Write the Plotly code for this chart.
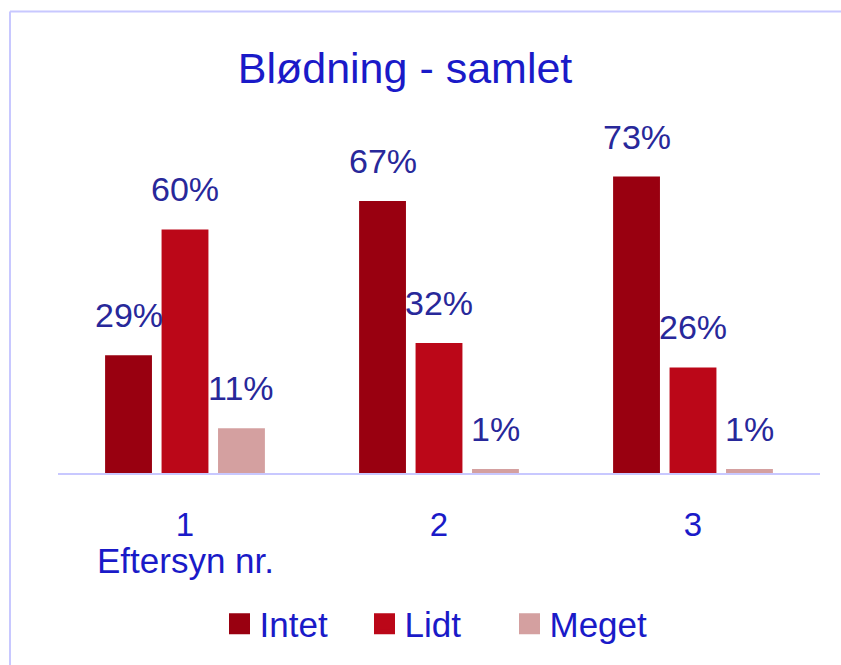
import plotly.graph_objects as go

categories = [1, 2, 3]
tick_labels = ["1", "2", "3"]
series_names = ["Intet", "Lidt", "Meget"]
intet = [29, 67, 73]
lidt = [60, 32, 26]
meget = [11, 1, 1]
values = [intet, lidt, meget]
colors = ["#990010", "#BB0718", "#D4A0A0"]

FONT = "Liberation Sans, Arial, sans-serif"
TEXT_BLUE = "#1a1ac8"
LABEL_BLUE = "#28289a"
BORDER = "#c8c8ff"

W, H = 841, 665
ML, MR, MT, MB = 58, 21, 67, 189
PW, PH = W - ML - MR, H - MT - MB


def px_x(x):
    return (x - ML) / PW


def px_y(y):
    return (H - MB - y) / PH


bargap = 0.333
bargroupgap = 0.17

fig = go.Figure()
for name, vals, col in zip(series_names, values, colors):
    fig.add_trace(go.Bar(x=categories, y=vals, name=name, marker_color=col,
                         marker_line_width=0, showlegend=False))
    # legend proxy
    fig.add_trace(go.Scatter(x=[None], y=[None], mode="markers", name=name,
                             marker=dict(symbol="square", size=24, color=col,
                                         line=dict(color=col, width=5))))

# data labels above bars
n = len(series_names)
slot = (1 - bargap) / n
annotations = []
for k, vals in enumerate(values):
    off = (k - (n - 1) / 2) * slot
    for c, v in zip(categories, vals):
        annotations.append(dict(x=c + off, y=v, xref="x", yref="y",
                                text=f"{v}%", showarrow=False,
                                yanchor="bottom", yshift=19,
                                font=dict(family=FONT, size=34, color=LABEL_BLUE)))

annotations.append(dict(x=px_x(185), y=px_y(564), xref="paper", yref="paper",
                        text="Eftersyn nr.", showarrow=False,
                        xanchor="center", yanchor="middle",
                        font=dict(family=FONT, size=35, color=TEXT_BLUE)))

fig.update_layout(
    width=W, height=H,
    margin=dict(l=ML, r=MR, t=MT, b=MB),
    paper_bgcolor="white", plot_bgcolor="white",
    barmode="group", bargap=bargap, bargroupgap=bargroupgap,
    title=dict(text="Blødning - samlet", x=0.4816, y=0.898, xref="container",
               yref="container", xanchor="center", yanchor="middle",
               font=dict(family=FONT, size=43, color=TEXT_BLUE)),
    xaxis=dict(range=[0.5, 3.5], tickvals=categories, ticktext=tick_labels,
               showline=True, linecolor=BORDER, linewidth=2, showgrid=False,
               zeroline=False, ticks="outside", ticklen=21,
               tickcolor="rgba(0,0,0,0)",
               tickfont=dict(family=FONT, size=33, color=TEXT_BLUE)),
    yaxis=dict(range=[0, 100], visible=False, showgrid=False, zeroline=False),
    legend=dict(orientation="h", x=px_x(437), y=px_y(628), xanchor="center",
                yanchor="middle", font=dict(family=FONT, size=35, color=TEXT_BLUE),
                itemsizing="trace", bgcolor="rgba(0,0,0,0)",
                entrywidth=100, entrywidthmode="pixels"),
    annotations=annotations,
    shapes=[
        dict(type="line", xref="paper", yref="paper", x0=px_x(10), x1=px_x(845),
             y0=px_y(11), y1=px_y(11), line=dict(color=BORDER, width=2)),
        dict(type="line", xref="paper", yref="paper", x0=px_x(10), x1=px_x(10),
             y0=px_y(11), y1=px_y(670), line=dict(color=BORDER, width=2)),
    ],
)

fig.write_html("out.html", config={"displayModeBar": False},
               post_script="document.body.style.margin='0';")
